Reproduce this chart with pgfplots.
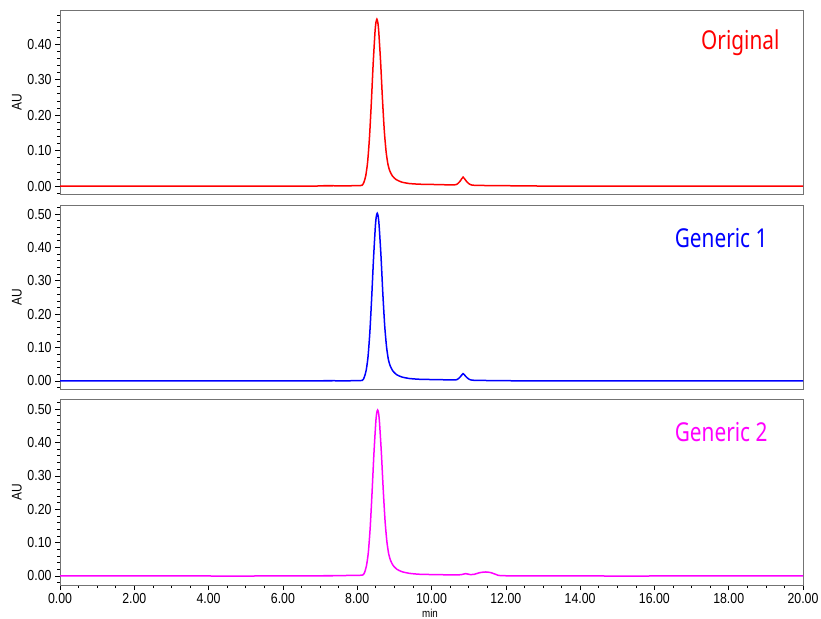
\documentclass[border=0pt]{standalone}
\usepackage{fontspec}
\setmainfont{Liberation Sans}
\newfontfamily\tickfont[FakeStretch=0.85]{Liberation Sans}
\newfontfamily\labfont[FakeStretch=0.8]{Noto Sans}
\usepackage{pgfplots}
\pgfplotsset{compat=1.18}
\definecolor{frame}{gray}{0.45}
\definecolor{mag}{RGB}{255,0,255}
\definecolor{rd}{RGB}{255,0,0}
\definecolor{bl}{RGB}{0,0,255}
\pgfplotsset{
  chrom/.style={
    scale only axis, width=743bp, anchor=south west,
    xmin=0, xmax=20,
    tick align=outside, ytick pos=left, xtick pos=bottom,
    minor x tick num=3,
    major tick length=5bp, minor tick length=3bp,
    axis line style={frame, line width=0.9bp},
    every tick/.style={black, line width=0.6bp},
    every minor tick/.style={black, line width=0.6bp},
    y tick label style={/pgf/number format/.cd, fixed, fixed zerofill, precision=2, assume math mode=true, /tikz/.cd, font=\tickfont\fontsize{14.5bp}{15bp}\selectfont},
    x tick label style={/pgf/number format/.cd, fixed, fixed zerofill, precision=2, assume math mode=true, /tikz/.cd, font=\tickfont\fontsize{14.5bp}{15bp}\selectfont},
    ylabel={AU},
    y label style={at={(axis description cs:-0.058,0.5)}, anchor=center, font=\tickfont\fontsize{14bp}{15bp}\selectfont},
    minor ytick={-0.02,0.02,0.04,0.06,0.08,0.12,0.14,0.16,0.18,0.22,0.24,0.26,0.28,0.32,0.34,0.36,0.38,0.42,0.44,0.46,0.48,0.52},
    every axis plot/.append style={line width=1.5bp, smooth, tension=0.4},
  }
}
\begin{document}
\begin{tikzpicture}
\path[use as bounding box] (0,0) rectangle (821bp,619bp);

% Panel 1: Original
\begin{axis}[chrom, at={(60bp,425bp)}, height=184bp,
  ymin=-0.0225, ymax=0.496, ytick={0,0.1,0.2,0.3,0.4}, xtick=\empty]
\addplot[rd] coordinates {
(0,0) (6.8,0) (7.1,0.001) (7.6,0.0005) (8.0,0.001) (8.13,0.002) (8.18,0.0105) (8.23,0.029)
(8.28,0.067) (8.33,0.136) (8.38,0.234) (8.43,0.345) (8.48,0.435) (8.505,0.461) (8.53,0.47) (8.555,0.461) (8.58,0.435)
(8.63,0.35) (8.68,0.245) (8.73,0.155) (8.78,0.095) (8.83,0.06) (8.88,0.042) (8.95,0.028)
(9.05,0.018) (9.2,0.011) (9.4,0.007) (9.7,0.005) (10.2,0.004) (10.6,0.003) (10.7,0.006)
(10.78,0.015) (10.85,0.025) (10.92,0.016) (11.0,0.007) (11.15,0.002) (12,0.001) (13,0) (20,0)
};
\node[anchor=east, text=rd, font=\labfont\fontsize{26bp}{28bp}\selectfont] at (axis description cs:0.973,0.82) {Original};
\end{axis}

% Panel 2: Generic 1
\begin{axis}[chrom, at={(60bp,230bp)}, height=184bp,
  ymin=-0.024, ymax=0.527, ytick={0,0.1,0.2,0.3,0.4,0.5}, xtick=\empty]
\addplot[bl] coordinates {
(0,0) (6.8,0) (7.1,0.001) (7.6,0.0005) (8.0,0.001) (8.14,0.002) (8.19,0.011) (8.24,0.031)
(8.29,0.071) (8.34,0.145) (8.39,0.25) (8.44,0.368) (8.49,0.465) (8.515,0.493) (8.54,0.502) (8.565,0.493) (8.59,0.465)
(8.64,0.375) (8.69,0.262) (8.74,0.166) (8.79,0.102) (8.84,0.064) (8.89,0.045) (8.96,0.03)
(9.06,0.019) (9.2,0.012) (9.4,0.0075) (9.7,0.005) (10.2,0.004) (10.6,0.003) (10.7,0.005)
(10.78,0.013) (10.85,0.022) (10.92,0.014) (11.0,0.006) (11.15,0.002) (12,0.001) (13,0) (20,0)
};
\node[anchor=east, text=bl, font=\labfont\fontsize{26bp}{28bp}\selectfont] at (axis description cs:0.957,0.82) {Generic 1};
\end{axis}

% Panel 3: Generic 2
\begin{axis}[chrom, at={(60bp,34bp)}, height=186bp,
  ymin=-0.027, ymax=0.53, ytick={0,0.1,0.2,0.3,0.4,0.5},
  xtick={0,2,4,6,8,10,12,14,16,18,20},
  xlabel={min},
  x label style={at={(axis description cs:0.498,0)}, yshift=-28bp, anchor=center, font=\tickfont\fontsize{11.5bp}{12bp}\selectfont}]
\addplot[mag] coordinates {
(0,0) (6.8,0) (7.1,0.001) (7.6,0.001) (7.8,0.002) (8.0,0.002) (8.15,0.003) (8.2,0.011) (8.25,0.031)
(8.3,0.071) (8.35,0.145) (8.4,0.25) (8.45,0.366) (8.5,0.46) (8.525,0.488) (8.55,0.497) (8.575,0.488) (8.6,0.46)
(8.65,0.37) (8.7,0.26) (8.75,0.165) (8.8,0.102) (8.85,0.065) (8.9,0.046) (8.97,0.031)
(9.07,0.02) (9.2,0.013) (9.4,0.008) (9.7,0.005) (10.2,0.004) (10.6,0.003) (10.8,0.004)
(10.92,0.007) (11.05,0.004) (11.15,0.005) (11.3,0.010) (11.46,0.012) (11.6,0.010) (11.75,0.004)
(11.9,0.001) (13,0) (20,0)
};
\node[anchor=east, text=mag, font=\labfont\fontsize{26bp}{28bp}\selectfont] at (axis description cs:0.957,0.82) {Generic 2};
\end{axis}
\end{tikzpicture}
\end{document}
